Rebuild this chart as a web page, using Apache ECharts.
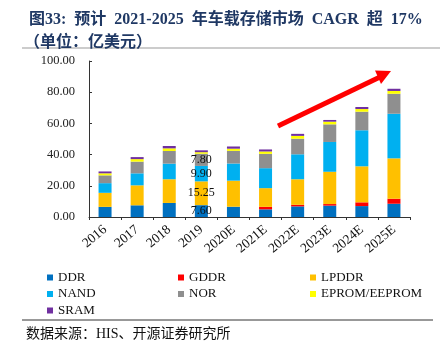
<!DOCTYPE html>
<html>
<head>
<meta charset="utf-8">
<script src="https://cdn.jsdelivr.net/npm/echarts@6/dist/echarts.min.js"></script>
<style>
html,body{margin:0;padding:0;background:#fff;}
#c{width:446px;height:350px;}
</style>
</head>
<body>
<div id="c"></div>
<script>
var categories = ['2016','2017','2018','2019','2020E','2021E','2022E','2023E','2024E','2025E'];
var ddr   = [6.5, 7.5, 9.0, 7.6, 6.6, 4.9, 6.8, 7.3, 7.0, 8.5];
var gddr  = [0, 0, 0, 0, 0, 1.6, 1.0, 1.0, 2.4, 3.2];
var lpddr = [9.0, 12.8, 15.2, 15.25, 16.7, 12.0, 16.4, 20.7, 23.1, 25.9];
var nand  = [6.2, 7.7, 10.0, 9.9, 11.0, 12.8, 16.0, 19.1, 23.1, 28.6];
var nor   = [5.0, 7.5, 8.1, 7.8, 8.1, 9.2, 10.0, 11.3, 11.9, 12.8];
var eprom = [1.3, 1.6, 1.7, 1.0, 1.4, 1.5, 1.8, 1.7, 1.7, 1.8];
var sram  = [1.2, 1.3, 1.5, 1.2, 1.4, 1.3, 1.3, 1.1, 1.3, 1.4];
var yTicks = [0, 20, 40, 60, 80, 100];
var labeledIndex = 3;

var serif = "'Liberation Serif','Noto Sans CJK SC',serif";
var names = ['DDR','GDDR','LPDDR','NAND','NOR','EPROM/EEPROM','SRAM'];
var colors = ['#0070C0','#FF0000','#FFC000','#00B0F0','#8F8F8F','#FFFF00','#7030A0'];
var values = [ddr, gddr, lpddr, nand, nor, eprom, sram];
var labeledSeries = {'DDR':1,'LPDDR':1,'NAND':1,'NOR':1};

var series = names.map(function(n, si){
  return {
    name: n, type: 'bar', stack: 'total', barWidth: 13,
    itemStyle: {color: colors[si]},
    data: values[si].map(function(v, i){
      var d = {value: v};
      if (labeledSeries[n] && i === labeledIndex) {
        d.label = {show: true, position: 'inside', color: '#111', fontFamily: serif, fontSize: 12,
                   formatter: function(p){ return p.value.toFixed(2); }};
      }
      return d;
    })
  };
});

function legendCol(left, data){
  return {left: left, top: 271, orient: 'vertical', data: data, icon: 'rect',
    itemWidth: 6, itemHeight: 6, itemGap: 3.5, selectedMode: false,
    textStyle: {fontFamily: serif, fontSize: 13, color: '#111', lineHeight: 13}, padding: 0};
}

var chart = echarts.init(document.getElementById('c'));
chart.setOption({
  animation: false,
  title: [
    {text: '图33:  预计  2021-2025  年车载存储市场  CAGR  超  17%', left: 24, top: 7,
     textStyle: {fontFamily: serif, fontSize: 16, fontWeight: 'bold', color: '#1F3864'}},
    {text: '（单位：亿美元）', left: 19, top: 30,
     textStyle: {fontFamily: serif, fontSize: 16, fontWeight: 'bold', color: '#1F3864'}},
    {text: '数据来源：HIS、开源证券研究所', left: 21, top: 322,
     textStyle: {fontFamily: serif, fontSize: 14, fontWeight: 'normal', color: '#111'}}
  ],
  legend: [
    legendCol(47, ['DDR','NAND','SRAM']),
    legendCol(178, ['GDDR','NOR']),
    legendCol(310, ['LPDDR','EPROM/EEPROM'])
  ],
  grid: {left: 89, right: 36, top: 61, bottom: 133},
  xAxis: {
    type: 'category', data: categories,
    axisLine: {lineStyle: {color: '#333'}},
    axisTick: {show: true, length: 3, lineStyle: {color: '#333'}},
    axisLabel: {rotate: 40, fontFamily: serif, fontSize: 13.5, color: '#111', margin: 11}
  },
  yAxis: {
    type: 'value', min: yTicks[0], max: yTicks[yTicks.length-1], interval: 20,
    axisLine: {show: true, lineStyle: {color: '#333'}},
    axisTick: {show: true, inside: true, length: 3, lineStyle: {color: '#333'}},
    splitLine: {show: false},
    axisLabel: {fontFamily: serif, fontSize: 12.5, color: '#222', margin: 14,
      formatter: function(v){ return v.toFixed(2); }}
  },
  series: series,
  graphic: [
    {type: 'line', shape: {x1: 22, y1: 48, x2: 440, y2: 48}, style: {stroke: '#999', lineWidth: 1}},
    {type: 'line', shape: {x1: 22, y1: 320, x2: 433, y2: 320}, style: {stroke: '#333', lineWidth: 1}},
    {type: 'line', shape: {x1: 278, y1: 126, x2: 380, y2: 77}, style: {stroke: '#FF0000', lineWidth: 5}},
    {type: 'polygon', shape: {points: [[391, 71], [375, 70.5], [381, 84]]}, style: {fill: '#FF0000'}}
  ]
});
</script>
</body>
</html>
